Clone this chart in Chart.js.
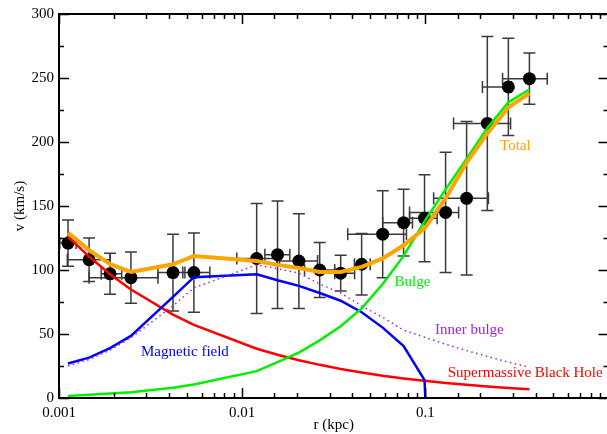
<!DOCTYPE html>
<html>
<head>
<meta charset="utf-8">
<script src="https://cdn.jsdelivr.net/npm/chart.js@4"></script>
<style>
  html, body { margin: 0; padding: 0; background: #fff; overflow: hidden; }
  #wrap { width: 615px; height: 434px; }
</style>
</head>
<body>
<div id="wrap"><canvas id="myChart"></canvas></div>
<script>
// observed rotation curve (r in kpc, v in km/s)
const radius = [0.00112, 0.00146, 0.0019, 0.00247, 0.00419, 0.00545, 0.012, 0.0156, 0.0204, 0.0265, 0.0345, 0.0449, 0.0585, 0.0761, 0.099, 0.129, 0.168, 0.218, 0.284, 0.37]
const velocity = [121, 108, 97, 94, 98, 98, 109, 112, 107, 100, 97.5, 104.5, 128, 137, 140.5, 145, 156, 214.5, 243, 249.5]
const velocityErr = [18, 17, 16, 20, 30, 31, 43, 42, 37, 21.5, 14, 24, 34, 26, 34, 47, 60, 68, 38, 20]
const radiusLow = [0.00101, 0.00111, 0.0017, 0.00146, 0.00347, 0.00474, 0.00935, 0.0133, 0.016, 0.0219, 0.032, 0.041, 0.0377, 0.0585, 0.082, 0.082, 0.111, 0.1426, 0.205, 0.264]
const radiusHigh = [0.00124, 0.0019, 0.0022, 0.00347, 0.00487, 0.00666, 0.01545, 0.0182, 0.0258, 0.032, 0.0411, 0.05, 0.0789, 0.0851, 0.116, 0.152, 0.221, 0.292, 0.295, 0.463]

// model components, evaluated at the same radii
const total = [129, 115.5, 104.5, 98.5, 104.5, 111, 107, 104, 101.6, 98.5, 98.5, 102.4, 109, 119.3, 132.6, 156, 184, 206.7, 227, 238]
const bulge = [1.6, 2.5, 3.5, 4.5, 8, 10.5, 21, 28, 35.5, 45, 56, 70, 89, 111, 138, 163, 187, 211, 231, 241]
const innerBulge = [25, 30, 37.5, 47, 72, 86, 104, 101, 97.5, 89, 82, 72, 63, 53, 47.5, 42, 37, 32.5, 28, 24]
const blackHole = [126, 110.4, 96.7, 84.8, 65.1, 57.1, 38.5, 33.8, 29.5, 25.9, 22.7, 19.9, 17.4, 15.3, 13.4, 11.7, 10.3, 9.0, 7.9, 6.9]
const magneticR = [0.00112, 0.00146, 0.0019, 0.00247, 0.00419, 0.00545, 0.012, 0.0156, 0.0204, 0.0265, 0.0345, 0.0449, 0.0585, 0.0761, 0.099, 0.1]
const magnetic = [27, 31.5, 39, 48.5, 79, 94.4, 96.7, 92, 87.6, 82, 76, 67, 55, 40.5, 14, 0]

const xTickLabels = ['0.001', '0.01', '0.1']

const pts = (xs, ys) => ys.map((v, i) => ({ x: xs[i], y: v }))

// text labels placed in data coordinates
const curveNotes = [
  { text: 'Total', r: 0.31, v: 196.6, color: '#ffa500' },
  { text: 'Bulge', r: 0.085, v: 90.5, color: '#00ee00' },
  { text: 'Inner bulge', r: 0.174, v: 53, color: '#a020f0' },
  { text: 'Magnetic field', r: 0.00487, v: 36, color: '#0000ff' },
  { text: 'Supermassive Black Hole', r: 0.351, v: 19.5, color: '#ff0000' }
]

const serif = '"Liberation Serif", "DejaVu Serif", serif'

const frame = {
  id: 'frame',
  beforeDatasetsDraw(chart) {
    const { ctx, scales: { x, y } } = chart
    ctx.save()
    ctx.strokeStyle = '#3a3a3a'
    ctx.lineWidth = 1.5
    for (let i = 0; i < radius.length; i++) {
      const px = x.getPixelForValue(radius[i])
      const py = y.getPixelForValue(velocity[i])
      const t = y.getPixelForValue(velocity[i] + velocityErr[i])
      const b = y.getPixelForValue(velocity[i] - velocityErr[i])
      const l = x.getPixelForValue(radiusLow[i])
      const r = x.getPixelForValue(radiusHigh[i])
      ctx.beginPath()
      ctx.moveTo(px, t); ctx.lineTo(px, b)
      ctx.moveTo(px - 6, t); ctx.lineTo(px + 6, t)
      ctx.moveTo(px - 6, b); ctx.lineTo(px + 6, b)
      ctx.moveTo(l, py); ctx.lineTo(r, py)
      ctx.moveTo(l, py - 6); ctx.lineTo(l, py + 6)
      ctx.moveTo(r, py - 6); ctx.lineTo(r, py + 6)
      ctx.stroke()
    }
    ctx.restore()
  },
  afterDraw(chart) {
    const { ctx, chartArea: a, scales: { x, y } } = chart
    ctx.save()
    ctx.strokeStyle = '#000'
    ctx.lineWidth = 1.5
    ctx.beginPath()
    x.ticks.forEach(t => {
      const lg = Math.log10(t.value)
      const len = Math.abs(lg - Math.round(lg)) < 1e-6 ? 10 : 5
      const px = Math.round(x.getPixelForValue(t.value)) + 0.5
      ctx.moveTo(px, a.bottom); ctx.lineTo(px, a.bottom - len)
      ctx.moveTo(px, a.top); ctx.lineTo(px, a.top + len)
    })
    y.ticks.forEach(t => {
      const len = t.value % 50 === 0 ? 10 : 5
      const py = Math.round(y.getPixelForValue(t.value)) + 0.5
      ctx.moveTo(a.left, py); ctx.lineTo(a.left + len, py)
      ctx.moveTo(a.right, py); ctx.lineTo(a.right - len, py)
    })
    ctx.stroke()
    ctx.lineWidth = 2
    ctx.strokeRect(a.left, a.top, a.right - a.left, a.bottom - a.top)

    ctx.font = '15px ' + serif
    ctx.textAlign = 'center'
    ctx.textBaseline = 'middle'
    curveNotes.forEach(n => {
      ctx.fillStyle = n.color
      ctx.fillText(n.text, x.getPixelForValue(n.r), y.getPixelForValue(n.v))
    })
    ctx.restore()
  }
}

const ctx = document.getElementById('myChart')

const grafica = new Chart(ctx, {
  type: 'scatter',
  data: {
    datasets: [
      { label: 'Total', data: pts(radius, total), showLine: true, borderColor: '#ffa500', borderWidth: 4, pointRadius: 0 },
      { label: 'Bulge', data: pts(radius, bulge), showLine: true, borderColor: '#00ee00', borderWidth: 2.5, pointRadius: 0 },
      { label: 'Inner bulge', data: pts(radius, innerBulge), showLine: true, borderColor: '#a020f0', borderWidth: 1.5, borderDash: [1.5, 3.5], pointRadius: 0 },
      { label: 'Magnetic field', data: pts(magneticR, magnetic), showLine: true, borderColor: '#0000ff', borderWidth: 2.5, pointRadius: 0 },
      { label: 'Supermassive Black Hole', data: pts(radius, blackHole), showLine: true, borderColor: '#ff0000', borderWidth: 2.5, pointRadius: 0 },
      { label: 'Data', data: pts(radius, velocity), pointRadius: 6.5, backgroundColor: '#000', borderColor: '#000', borderWidth: 0 }
    ]
  },
  options: {
    responsive: true,
    maintainAspectRatio: false,
    animation: false,
    devicePixelRatio: 1,
    events: [],
    layout: { padding: { top: 14, right: 6, left: 0, bottom: 0 } },
    plugins: { legend: { display: false }, tooltip: { enabled: false } },
    scales: {
      x: {
        type: 'logarithmic',
        position: 'bottom',
        min: 0.001,
        max: 1,
        grid: { display: false, drawTicks: false },
        border: { display: false },
        ticks: {
          autoSkip: false,
          maxRotation: 0,
          padding: 6,
          color: '#000',
          font: { family: serif, size: 15 },
          callback: v => xTickLabels.find(s => Math.abs(parseFloat(s) - v) < 1e-9) || ''
        },
        title: { display: true, text: 'r (kpc)', color: '#000', font: { family: serif, size: 15 }, padding: { top: 0, bottom: 0 } },
        afterFit: s => { s.height = 36 }
      },
      y: {
        type: 'linear',
        position: 'left',
        min: 0,
        max: 300,
        grid: { display: false, drawTicks: false },
        border: { display: false },
        ticks: {
          stepSize: 25,
          autoSkip: false,
          padding: 5,
          color: '#000',
          font: { family: serif, size: 15 },
          callback: v => v % 50 === 0 ? v : ''
        },
        title: { display: true, text: 'v (km/s)', color: '#000', font: { family: serif, size: 15 }, padding: { top: 11, bottom: 11 } },
        afterFit: s => { s.width = 59 }
      }
    }
  },
  plugins: [frame]
})
</script>
</body>
</html>
